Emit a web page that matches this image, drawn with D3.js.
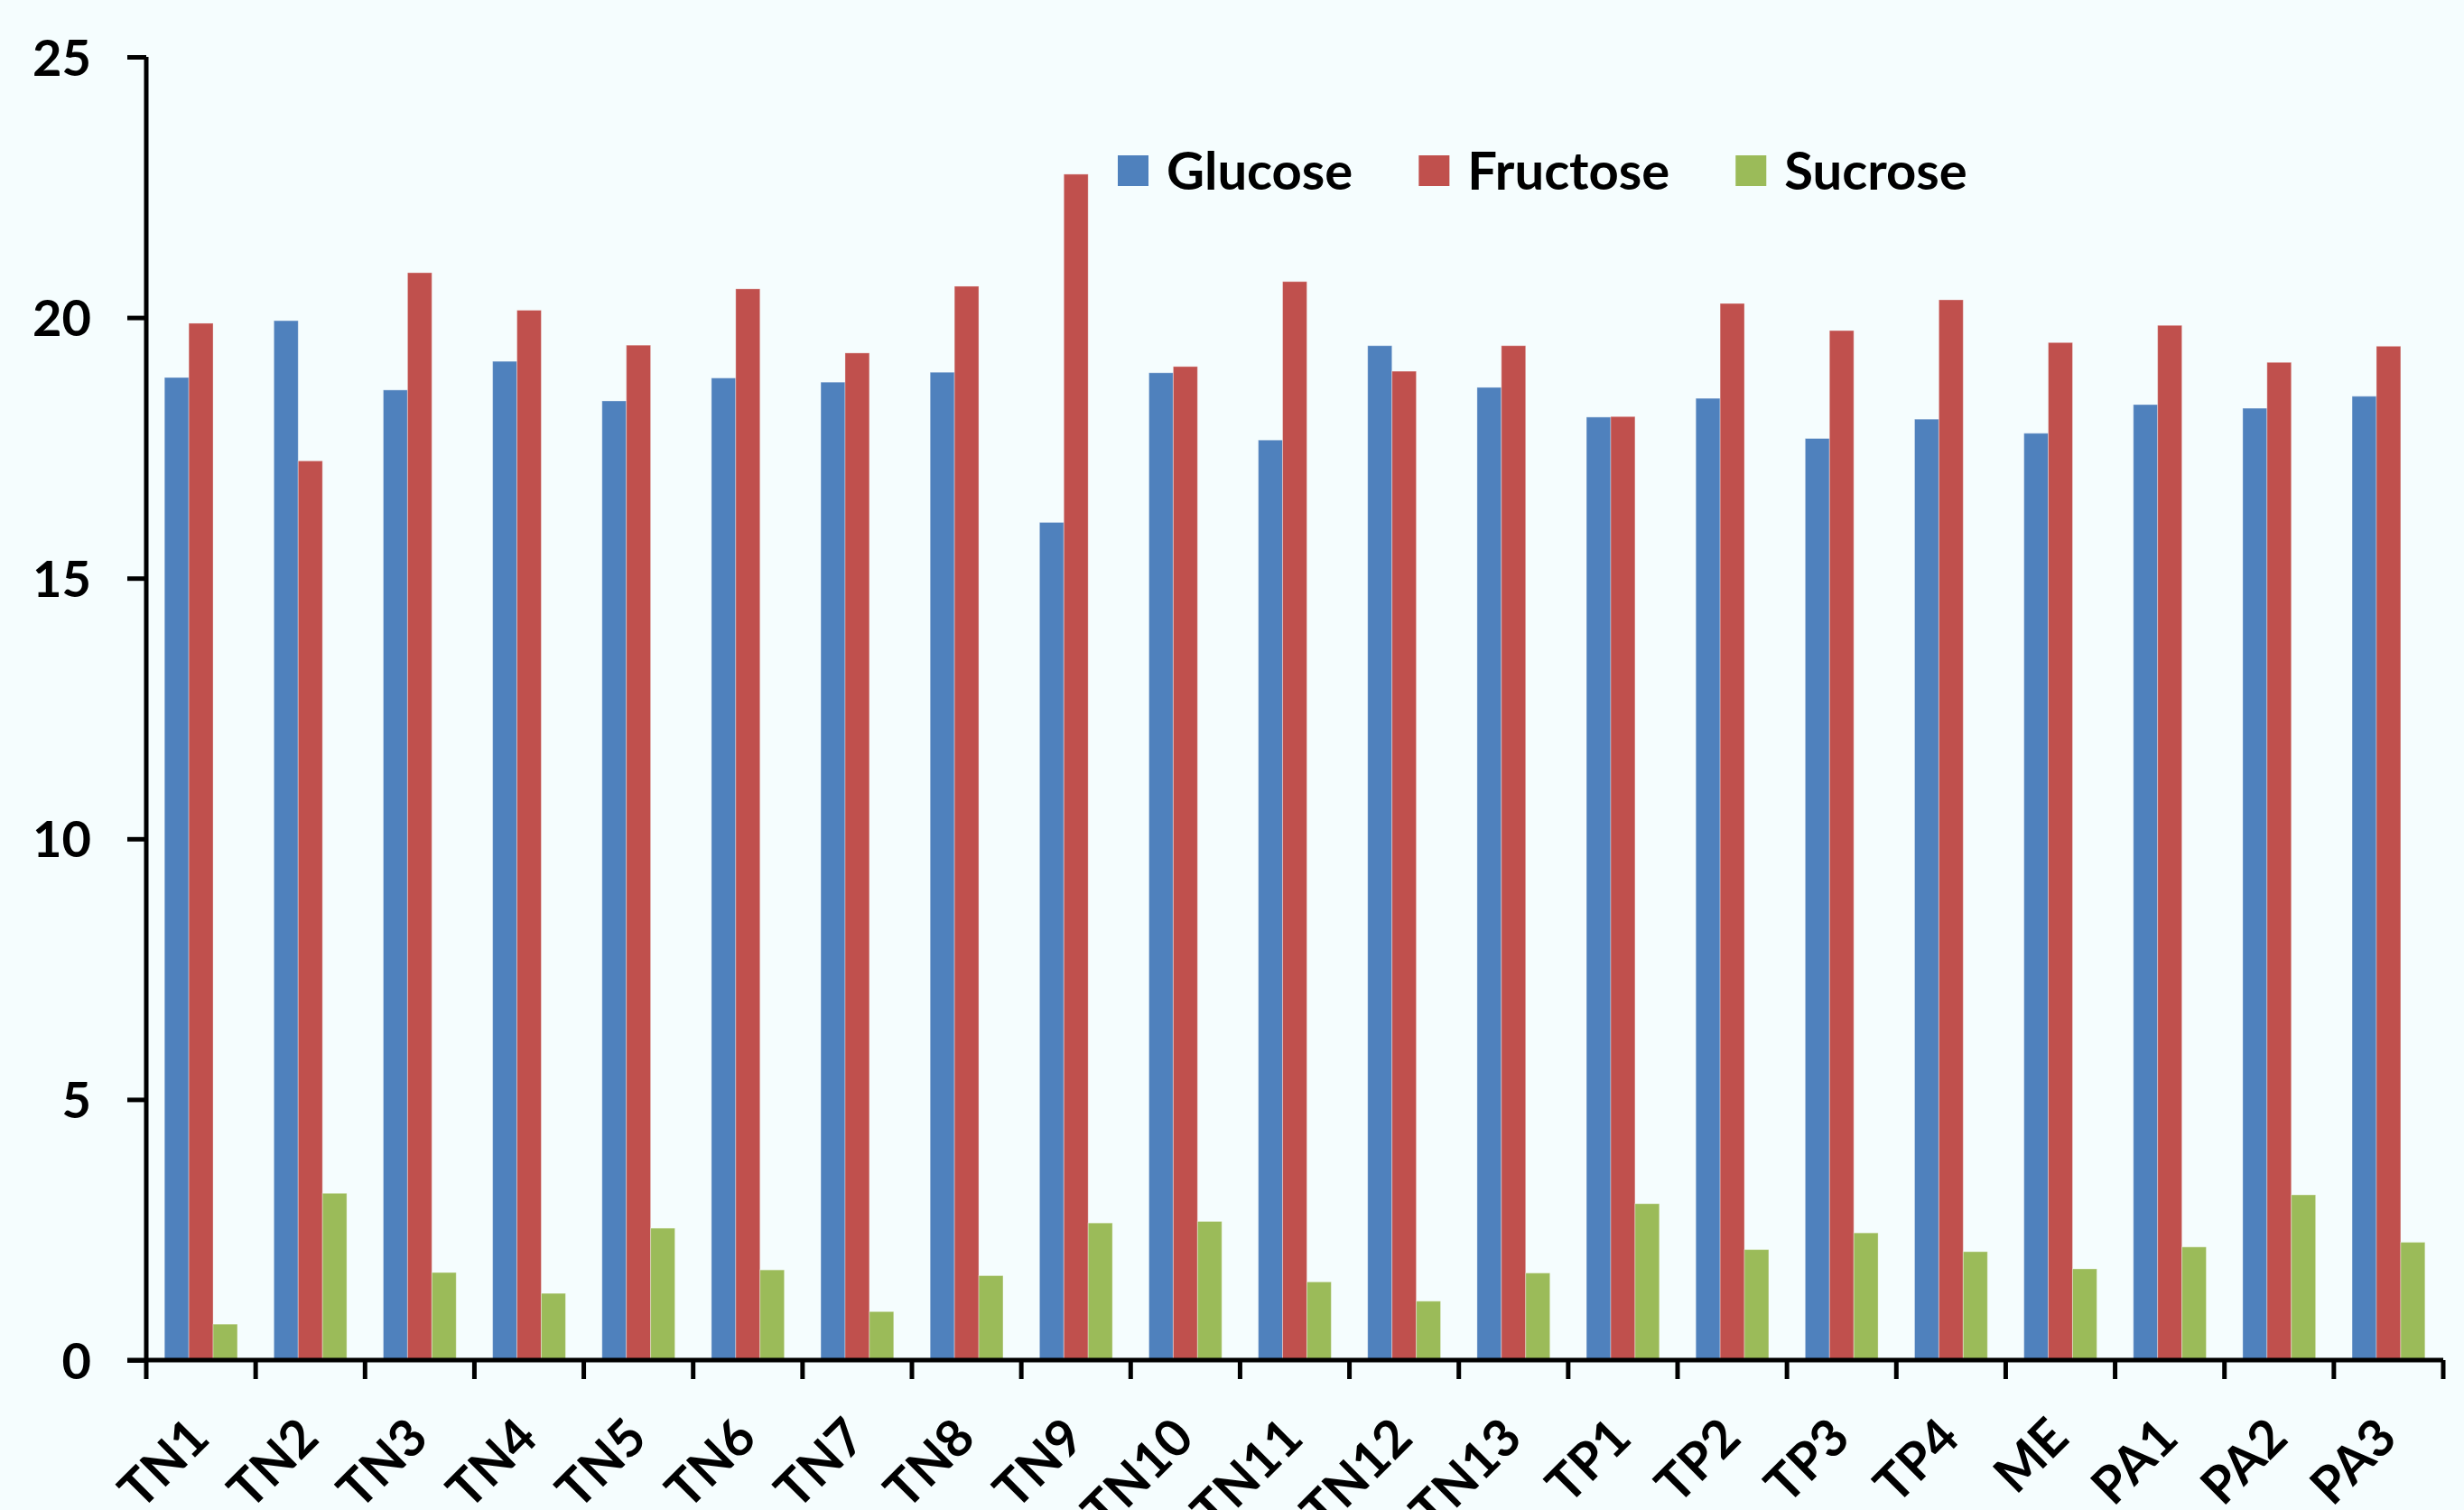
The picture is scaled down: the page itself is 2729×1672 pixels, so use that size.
<!DOCTYPE html>
<html>
<head>
<meta charset="utf-8">
<script src="https://cdn.jsdelivr.net/npm/d3@7"></script>
<style>
  body { margin: 0; background: #f5fdfe; }
  text { font-family: Lato, "Open Sans", sans-serif; font-weight: bold; fill: #000; }
</style>
</head>
<body>
<div id="chart-area"></div>
<script>
// Data
const samples = ["TN1", "TN2", "TN3", "TN4", "TN5", "TN6", "TN7", "TN8", "TN9", "TN10", "TN11",
  "TN12", "TN13", "TP1", "TP2", "TP3", "TP4", "ME", "PA1", "PA2", "PA3"]
const sugars = ["Glucose", "Fructose", "Sucrose"]
const glucose = [18.85, 19.94, 18.61, 19.16, 18.40, 18.84, 18.76, 18.95, 16.07, 18.94, 17.65,
  19.46, 18.66, 18.09, 18.45, 17.68, 18.05, 17.78, 18.33, 18.26, 18.49]
const fructose = [19.89, 17.25, 20.86, 20.14, 19.47, 20.55, 19.32, 20.60, 22.75, 19.06, 20.69,
  18.97, 19.46, 18.10, 20.27, 19.75, 20.34, 19.52, 19.85, 19.14, 19.45]
const sucrose = [0.69, 3.20, 1.68, 1.28, 2.53, 1.73, 0.93, 1.62, 2.63, 2.66, 1.50,
  1.13, 1.67, 3.00, 2.12, 2.44, 2.08, 1.75, 2.17, 3.17, 2.26]
const yTicks = [0, 5, 10, 15, 20, 25]
const colors = ["#4f81bd", "#c0504d", "#9bbb59"]

const WIDTH = 2729
const HEIGHT = 1672
const PLOT = { LEFT: 162, RIGHT: 2706, TOP: 63, BOTTOM: 1506 }

const svg = d3.select("#chart-area").append("svg")
  .attr("width", WIDTH)
  .attr("height", HEIGHT)

svg.append("rect")
  .attr("width", WIDTH)
  .attr("height", HEIGHT)
  .attr("fill", "#f5fdfe")

const series = [glucose, fructose, sucrose]
const rows = samples.map((s, i) => ({
  sample: s,
  values: sugars.map((k, j) => ({ key: k, value: series[j][i] }))
}))

// Scales
const x0 = d3.scaleBand()
  .domain(samples)
  .range([PLOT.LEFT, PLOT.RIGHT])
const bw = x0.bandwidth()
const x1 = d3.scaleBand()
  .domain(sugars)
  .range([bw / 6, bw * 5 / 6])
const y = d3.scaleLinear()
  .domain([0, 25])
  .range([PLOT.BOTTOM, PLOT.TOP])
const color = d3.scaleOrdinal()
  .domain(sugars)
  .range(colors)

// Bars
const groups = svg.selectAll("g.group")
  .data(rows)
  .enter().append("g")
  .attr("class", "group")
  .attr("transform", d => `translate(${x0(d.sample)},0)`)

groups.selectAll("rect")
  .data(d => d.values)
  .enter().append("rect")
  .attr("x", d => x1(d.key))
  .attr("width", x1.bandwidth())
  .attr("y", d => y(d.value))
  .attr("height", d => y(0) - y(d.value))
  .attr("fill", d => color(d.key))
  .attr("stroke", "#ffffff")
  .attr("stroke-opacity", 0.35)
  .attr("stroke-width", 1)

// Y axis
const yAxisCall = d3.axisLeft(y)
  .tickValues(yTicks)
  .tickSize(21)
  .tickPadding(40)
  .tickFormat(d => d)
const yAxis = svg.append("g")
  .attr("transform", `translate(${PLOT.LEFT},0)`)
  .call(yAxisCall)
yAxis.select(".domain")
  .attr("d", `M0,${PLOT.TOP}V${PLOT.BOTTOM}`)
yAxis.selectAll("line, path").attr("stroke", "#000").attr("stroke-width", 5)
yAxis.selectAll("text")
  .attr("font-size", "56px")
  .attr("dy", "0.36em")
  .style("font-family", "Lato, sans-serif")
  .style("font-weight", "bold")

// X axis
const xAxisCall = d3.axisBottom(x0)
  .tickValues([])
  .tickSizeOuter(0)
const xAxis = svg.append("g")
  .attr("transform", `translate(0,${PLOT.BOTTOM})`)
  .call(xAxisCall)
xAxis.select(".domain")
  .attr("d", `M${PLOT.LEFT - 21},0H${PLOT.RIGHT}`)
  .attr("stroke", "#000")
  .attr("stroke-width", 5)

const boundaries = samples.map(s => x0(s)).concat([PLOT.RIGHT])
xAxis.selectAll("line.bound")
  .data(boundaries)
  .enter().append("line")
  .attr("class", "bound")
  .attr("x1", d => d)
  .attr("x2", d => d)
  .attr("y1", 0)
  .attr("y2", 21)
  .attr("stroke", "#000")
  .attr("stroke-width", 5)

svg.selectAll("text.xlabel")
  .data(samples)
  .enter().append("text")
  .attr("class", "xlabel")
  .attr("text-anchor", "end")
  .attr("font-size", "57px")
  .attr("transform", d => `translate(${x0(d) + bw / 2 + 12},${PLOT.BOTTOM + 89}) rotate(-45)`)
  .text(d => d)

// Legend
const legend = svg.append("g")
  .attr("transform", "translate(1238,172)")
let offset = 0
sugars.forEach((s, i) => {
  const item = legend.append("g")
    .attr("transform", `translate(${offset},0)`)
  item.append("rect")
    .attr("width", 34)
    .attr("height", 34)
    .attr("fill", color(s))
  const label = item.append("text")
    .attr("x", 54)
    .attr("y", 17)
    .attr("dy", "0.36em")
    .attr("font-size", "58px")
    .text(s)
  offset += 54 + label.node().getComputedTextLength() + 73
})
</script>
</body>
</html>
